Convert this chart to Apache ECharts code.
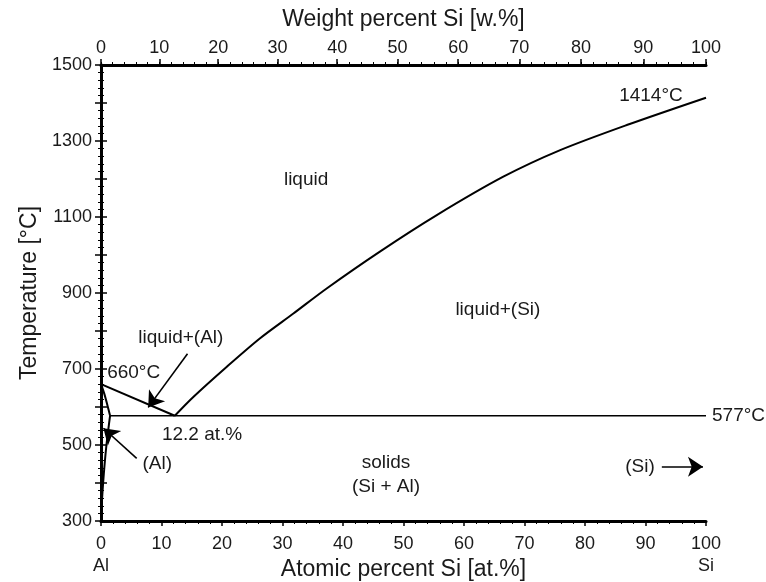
<!DOCTYPE html>
<html><head><meta charset="utf-8">
<script src="https://cdn.jsdelivr.net/npm/echarts@6/dist/echarts.min.js"></script>
<style>html,body{margin:0;padding:0;background:#fff}#c{width:766px;height:582px}</style>
</head><body><div id="c"></div>
<script>
// ---- data (atomic % Si, temperature °C) ----
var liquidusAl = [[0, 660], [12.2, 577]];
var liquidusSi = [[12.2, 577], [15.3, 627], [20.8, 706], [26.3, 781], [31.8, 846], [37.3, 912], [46.1, 1009], [55.5, 1105], [66.5, 1206], [75.9, 1276], [86.9, 1342], [100, 1414]];
var solidusAl = [[0, 660], [0.6, 632], [1.1, 602], [1.5, 577]];
var solvusAl = [[1.5, 577], [1.2, 540], [0.9, 500], [0.6, 450], [0.35, 400], [0.15, 350], [0.05, 300]];
var eutectic = [[1.5, 577], [100, 577]];
var arrowLines = [
  [[14.3, 740], [7.8, 599]],
  [[5.9, 465], [0.4, 544]],
  [[92.7, 443], [99.5, 443]]
];
var annotations = [
  { text: 'liquid', pos: [33.9, 1197], align: 'center' },
  { text: 'liquid+(Si)', pos: [65.6, 855], align: 'center' },
  { text: 'solids\n(Si + Al)', pos: [47.1, 421], align: 'center' },
  { text: '1414°C', pos: [90.9, 1418], align: 'center' },
  { text: '660°C', pos: [5.4, 689], align: 'center' },
  { text: '12.2 at.%', pos: [16.7, 526], align: 'center' },
  { text: 'liquid+(Al)', pos: [13.2, 782], align: 'center' },
  { text: '(Al)', pos: [9.3, 450], align: 'center' },
  { text: '(Si)', pos: [89.1, 442], align: 'center' },
  { text: '577°C', pos: [100, 577], align: 'left' }
];
var atTicks = [0, 10, 20, 30, 40, 50, 60, 70, 80, 90, 100];
var wtTicks = [0, 10, 20, 30, 40, 50, 60, 70, 80, 90, 100];
var tempLabels = [300, 500, 700, 900, 1100, 1300, 1500];
var M_AL = 26.9815, M_SI = 28.0855;

function wtToAt(w) {
  if (w <= 0) return 0; if (w >= 100) return 100;
  var a = w / M_SI, b = (100 - w) / M_AL;
  return a / (a + b) * 100;
}
function atToWt(x) {
  var a = x * M_SI, b = (100 - x) * M_AL;
  return a / (a + b) * 100;
}
var wtMinor = [];
for (var w = 0; w <= 100; w += 2) wtMinor.push(wtToAt(w));

var FONT = 'Liberation Sans, Arial, sans-serif';
var TXT = '#1a1a1a';
var chart = echarts.init(document.getElementById('c'), null, { renderer: 'canvas' });

var lineSeries = function (data, width) {
  return {
    type: 'line', data: data, showSymbol: false, symbol: 'none', silent: true,
    lineStyle: { color: '#000', width: width }, xAxisIndex: 0, yAxisIndex: 0, z: 3
  };
};

chart.setOption({
  animation: false,
  backgroundColor: '#fff',
  grid: { left: 101, right: 60, top: 65, bottom: 61, containLabel: false, outerBoundsMode: 'none' },
  xAxis: [
    {
      type: 'value', position: 'bottom', min: 0, max: 100, interval: 10,
      name: 'Atomic percent Si [at.%]', nameLocation: 'middle', nameGap: 37, nameMoveOverlap: false,
      nameTextStyle: { fontSize: 23, color: TXT, fontFamily: FONT },
      axisLine: { show: true, lineStyle: { color: '#000', width: 3 } },
      axisTick: { show: true, inside: false, length: 5, lineStyle: { color: '#000', width: 1.5 } },
      minorTick: { show: true, splitNumber: 5, length: 3, lineStyle: { color: '#000', width: 1 } },
      splitLine: { show: false },
      axisLabel: {
        margin: 12, fontSize: 18, color: TXT, fontFamily: FONT, lineHeight: 22,
        formatter: function (v) {
          if (v === atTicks[0]) return v + '\nAl';
          if (v === atTicks[atTicks.length - 1]) return v + '\nSi';
          return String(v);
        }
      }
    },
    {
      type: 'value', position: 'top', min: 0, max: 100,
      name: 'Weight percent Si [w.%]', nameLocation: 'middle', nameGap: 34, nameMoveOverlap: false,
      nameTextStyle: { fontSize: 23, color: TXT, fontFamily: FONT },
      axisLine: { show: true, lineStyle: { color: '#000', width: 3 } },
      axisTick: { show: true, length: 6, customValues: wtTicks.map(wtToAt), lineStyle: { color: '#000', width: 1.5 } },
      splitLine: { show: false },
      axisLabel: {
        margin: 8, fontSize: 18, color: TXT, fontFamily: FONT,
        customValues: wtTicks.map(wtToAt),
        formatter: function (v) { return String(Math.round(atToWt(v))); }
      }
    },
    {
      type: 'value', position: 'top', min: 0, max: 100,
      axisLine: { show: false },
      axisTick: { show: true, length: 3, customValues: wtMinor, lineStyle: { color: '#000', width: 1 } },
      axisLabel: { show: false },
      splitLine: { show: false }
    }
  ],
  yAxis: [
    {
      type: 'value', position: 'left', min: 300, max: 1500, interval: 100,
      name: 'Temperature [°C]', nameLocation: 'middle', nameGap: 60, nameRotate: 90, nameMoveOverlap: false,
      nameTextStyle: { fontSize: 23, color: TXT, fontFamily: FONT },
      axisLine: { show: true, lineStyle: { color: '#000', width: 3 } },
      axisTick: { show: true, length: 6, lineStyle: { color: '#000', width: 1.5 } },
      minorTick: { show: true, splitNumber: 5, length: 3, lineStyle: { color: '#000', width: 1 } },
      splitLine: { show: false },
      axisLabel: {
        margin: 9, fontSize: 18, color: TXT, fontFamily: FONT,
        formatter: function (v) { return tempLabels.indexOf(v) >= 0 ? String(v) : ''; }
      }
    },
    {
      type: 'value', position: 'right', min: 300, max: 1500, interval: 100,
      axisLine: { show: true, lineStyle: { color: '#000', width: 3 } },
      axisTick: { show: true, length: 6, lineStyle: { color: '#000', width: 1.5 } },
      minorTick: { show: true, splitNumber: 5, length: 3, lineStyle: { color: '#000', width: 1 } },
      splitLine: { show: false },
      axisLabel: { show: false }
    }
  ],
  series: [
    lineSeries(liquidusAl, 2),
    Object.assign(lineSeries(liquidusSi, 2), { smooth: 0.3 }),
    Object.assign(lineSeries(solidusAl, 2), { smooth: 0.3 }),
    Object.assign(lineSeries(solvusAl, 2), { smooth: 0.3 }),
    lineSeries(eutectic, 1.5),
    {
      type: 'lines', coordinateSystem: 'cartesian2d', xAxisIndex: 0, yAxisIndex: 0, silent: true, z: 4,
      symbol: ['none', 'arrow'], symbolSize: [0, 15],
      lineStyle: { color: '#000', width: 1.6, opacity: 1 },
      data: arrowLines.map(function (c) { return { coords: c }; })
    },
    {
      type: 'scatter', xAxisIndex: 0, yAxisIndex: 0, silent: true, z: 5, clip: false,
      symbolSize: 0, itemStyle: { opacity: 1, color: '#000' },
      data: annotations.map(function (a) {
        return {
          value: a.pos,
          label: {
            show: true, formatter: a.text, opacity: 1,
            position: a.align === 'left' ? 'right' : 'inside',
            distance: 6, align: a.align, verticalAlign: 'middle',
            fontSize: 19, lineHeight: 24, color: TXT, fontFamily: FONT
          }
        };
      })
    }
  ]
});
</script>
</body></html>
